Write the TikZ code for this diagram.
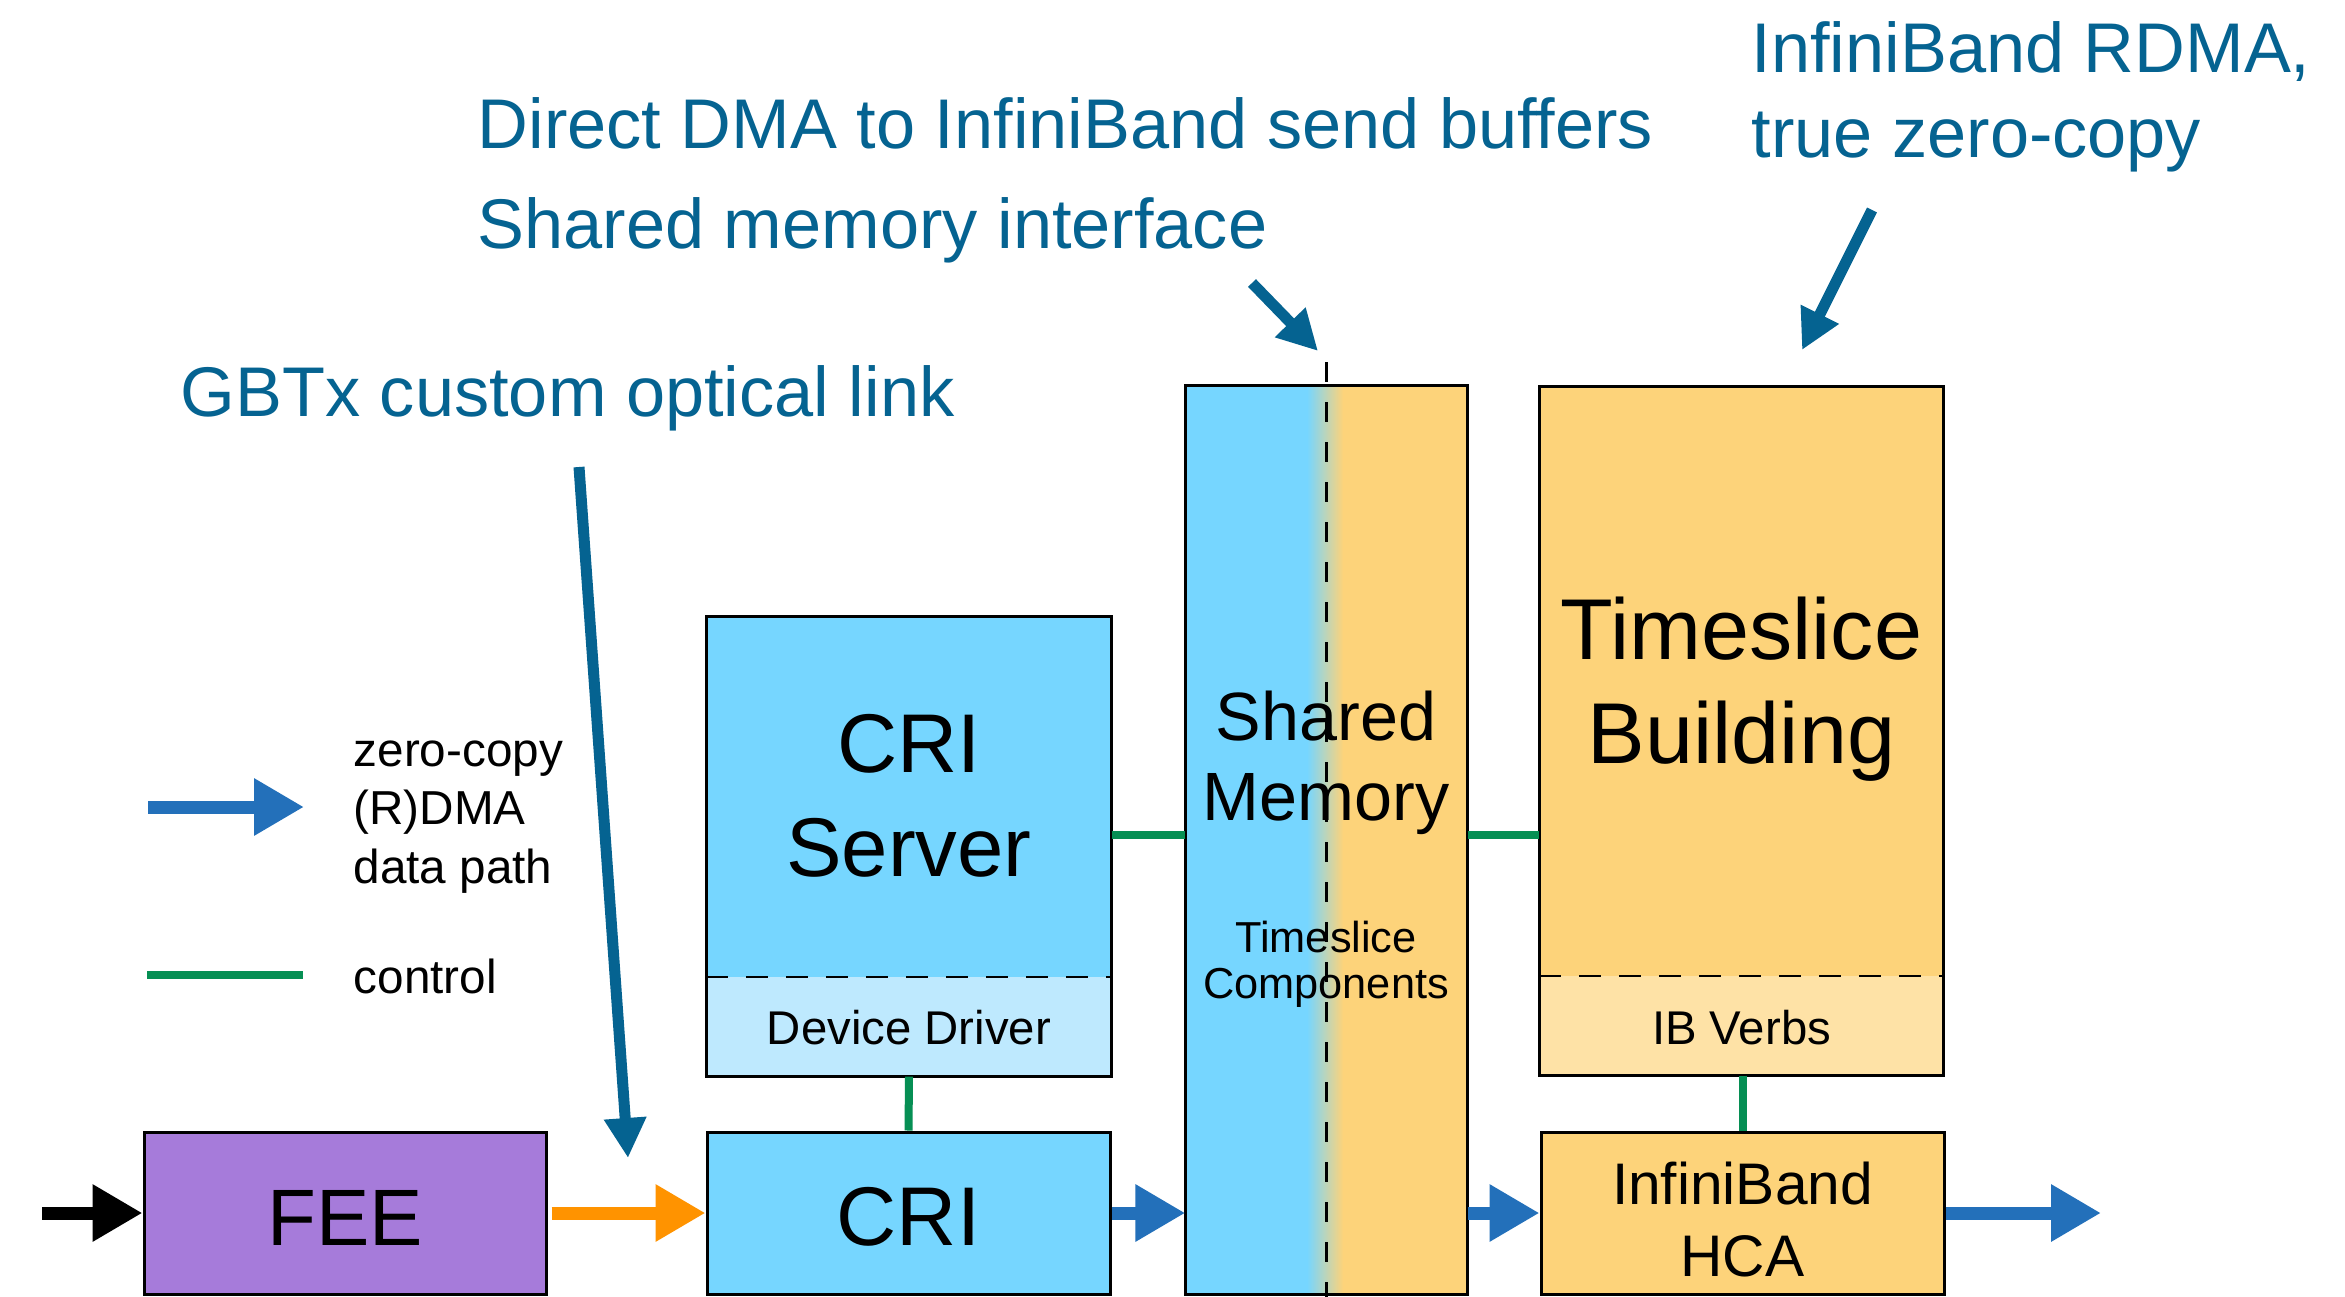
\documentclass[tikz,border=0pt]{standalone}
\usepackage{fontspec}
\setmainfont{Liberation Sans}
\usetikzlibrary{arrows.meta,calc}

\definecolor{boxblue}{RGB}{118,214,255}
\definecolor{boxbluelt}{RGB}{190,233,254}
\definecolor{boxorange}{RGB}{253,211,122}
\definecolor{boxorangelt}{RGB}{254,226,166}
\definecolor{feepurple}{RGB}{166,123,218}
\definecolor{dataorange}{RGB}{255,147,0}
\definecolor{datablue}{RGB}{35,112,186}
\definecolor{ctrlgreen}{RGB}{6,143,84}
\definecolor{noteblue}{RGB}{5,99,145}

\newcommand\fs[2]{\fontsize{#1}{#2}\selectfont}

% multi-line labels are placed by the baseline of their last line
\tikzset{
  block/.style={inner sep=0pt, line width=0.9pt, draw=black},
  frame/.style={inner sep=0pt},
  label text/.style={inner sep=0pt, align=center, anchor=base},
  datapath/.style={line width=3.9pt, -{Triangle[length=15pt,width=16.2pt]}},
  ctrl/.style={line width=2.4pt, ctrlgreen},
  callout/.style={line width=3.3pt, noteblue, -{Triangle[length=12pt,width=12pt]}},
  note/.style={noteblue, font=\fs{21.1}{25.5}, anchor=base west, inner sep=0pt, align=left},
  legend text/.style={font=\fs{14.3}{17.5}, anchor=base west, inner sep=0pt, align=left},
  sepline/.style={line width=0.8pt, dash pattern=on 6.6pt off 5.4pt},
}

\begin{document}
\begin{tikzpicture}[x=0.3pt, y=-0.3pt]
  \fill[white] (0,0) rectangle (2345,1297);
  \useasboundingbox (0,0) rectangle (2345,1297);

  % ---------- blocks ----------
  \node[block, fill=feepurple, minimum width=120.6pt, minimum height=48.6pt] (fee) at (345,1213) {};
  \node[label text, font=\fs{24}{30}] (feetxt) at (345,1245) {FEE};

  \node[block, fill=boxblue, minimum width=120.9pt, minimum height=48.6pt] (cri) at (908.5,1213) {};
  \node[label text, font=\fs{25}{30}] (critxt) at (908.5,1245) {CRI};

  % CRI server with device driver layer
  \node[frame, fill=boxblue, minimum width=121.2pt, minimum height=137.7pt] (crisrv) at (909,846.5) {};
  \fill[boxbluelt] (crisrv.south west) rectangle (crisrv.east |- 0,977);
  \draw[sepline] (crisrv.west |- 0,977) -- (crisrv.east |- 0,977);
  \draw[line width=0.9pt] (crisrv.south west) rectangle (crisrv.north east);
  \node[label text, font=\fs{25}{31}] (crisrvtxt) at (909,876) {CRI\\Server};
  \node[label text, font=\fs{14.2}{16}] (drvtxt) at (909,1044) {Device Driver};

  % shared memory, half host side and half network side
  \node[frame, minimum width=84.3pt, minimum height=272.4pt] (shm) at (1326.5,840) {};
  \fill[boxblue] (shm.south west) rectangle (1307,386);
  \shade[left color=boxblue, right color=boxorange] (1307,1294) rectangle (1343,386);
  \fill[boxorange] (1343,1294) rectangle (shm.north east);
  \draw[line width=0.9pt] (shm.south west) rectangle (shm.north east);
  \coordinate (split top) at (1326,362);
  \coordinate (split bottom) at (1326,1297);
  \draw[line width=0.9pt, dash pattern=on 6pt off 6pt] (split top) -- (split bottom);
  \node[label text, font=\fs{20.5}{24}] (shmtxt) at (1326,820) {Shared\\Memory};
  \node[label text, font=\fs{13}{13.8}] (tscomp) at (1326,998) {Timeslice\\Components};

  % timeslice building with IB verbs layer
  \node[frame, fill=boxorange, minimum width=120.9pt, minimum height=206.4pt] (tsb) at (1741.5,731) {};
  \fill[boxorangelt] (tsb.south west) rectangle (tsb.east |- 0,976);
  \draw[sepline] (tsb.west |- 0,976) -- (tsb.east |- 0,976);
  \draw[line width=0.9pt] (tsb.south west) rectangle (tsb.north east);
  \node[label text, font=\fs{25.9}{31}] (tsbtxt) at (1741.5,763) {Timeslice\\Building};
  \node[label text, font=\fs{14.2}{16}] (verbstxt) at (1741.5,1044) {IB Verbs};

  \node[block, fill=boxorange, minimum width=120.9pt, minimum height=48.6pt] (hca) at (1742.5,1213) {};
  \node[label text, font=\fs{17.6}{21.6}] (hcatxt) at (1742.5,1276) {InfiniBand\\HCA};

  % ---------- control links ----------
  \draw[ctrl] (crisrv.south) -- (cri.north);
  \draw[ctrl] (tsb.south -| hca.north) -- (hca.north);
  \draw[ctrl] (crisrv.east |- 0,835) -- (shm.west |- 0,835);
  \draw[ctrl] (shm.east |- 0,835) -- (tsb.west |- 0,835);

  % ---------- data path ----------
  \coordinate (in) at (42,1213);
  \coordinate (out) at (2101,1213);
  \draw[datapath, black] (in) -- (fee.west);
  \draw[datapath, dataorange, shorten <=1.2pt] (fee.east) -- (cri.west);
  \draw[datapath, datablue] (cri.east) -- (shm.west |- cri.east);
  \draw[datapath, datablue] (shm.east |- hca.west) -- (hca.west);
  \draw[datapath, datablue] (hca.east) -- (out);

  % ---------- legend ----------
  \coordinate (lg arrow a) at (148,807);
  \coordinate (lg arrow b) at (304,807);
  \draw[datapath, datablue] (lg arrow a) -- (lg arrow b);
  \node[legend text] (lg data) at (353,883) {zero-copy\\(R)DMA\\data path};
  \coordinate (lg ctrl a) at (147,975);
  \coordinate (lg ctrl b) at (303,975);
  \draw[ctrl] (lg ctrl a) -- (lg ctrl b);
  \node[legend text] (lg ctrl) at (353,993) {control};

  % ---------- annotations ----------
  \node[note] (gbtx) at (180,416) {GBTx custom optical link};
  \node[note] (dma) at (477,148) {Direct DMA to InfiniBand send buffers};
  \node[note] (shmif) at (477,248) {Shared memory interface};
  \node[note] (rdma) at (1751,157) {InfiniBand RDMA,\\true zero-copy};

  \coordinate (gbtx tail) at (579,467);
  \coordinate (gbtx tip) at (628,1158);
  \coordinate (shmif tail) at (1252,283);
  \coordinate (shmif tip) at (1318,351);
  \coordinate (rdma tail) at (1872,210);
  \coordinate (rdma tip) at (1802,350);
  \draw[callout] (gbtx tail) -- (gbtx tip);
  \draw[callout] (shmif tail) -- (shmif tip);
  \draw[callout] (rdma tail) -- (rdma tip);
\end{tikzpicture}
\end{document}
